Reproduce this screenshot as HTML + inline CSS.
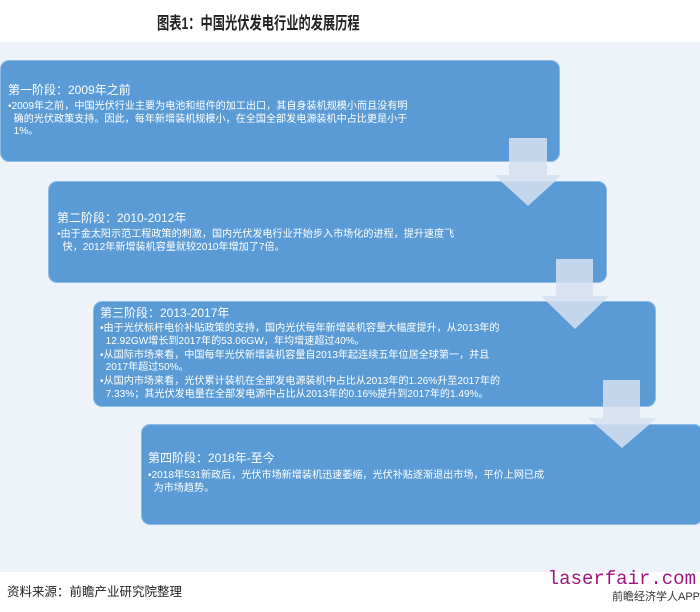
<!DOCTYPE html>
<html><head><meta charset="utf-8"><style>
*{margin:0;padding:0;box-sizing:border-box}
body{width:700px;height:612px;background:#fff;position:relative;overflow:hidden;font-family:"Liberation Sans","Noto Sans CJK SC",sans-serif}
.title{position:absolute;left:157px;top:9px;font-size:17px;font-weight:bold;color:#222;white-space:nowrap;transform:scaleX(0.72);transform-origin:0 0}
.panel{position:absolute;left:0;top:42px;width:700px;height:530px;background:#eef3fa}
.box{position:absolute;background:#5b9bd5;border-radius:9px;color:#fff;border:1px solid #8fbbe6}
.h{position:absolute;font-size:12px;white-space:nowrap}
.t{position:absolute;font-size:10.1px;line-height:12.5px;white-space:nowrap}
.t p{margin-bottom:1.5px}
.arr{position:absolute;opacity:0.85}
.src{position:absolute;left:7px;top:581px;font-size:12.5px;color:#222}
.wm{position:absolute;right:4px;top:568px;font-family:"Liberation Mono",monospace;color:#a0157f;font-size:19px}
.app{position:absolute;right:0;top:588px;font-size:11px;color:#333}
</style></head><body>
<div class="title">图表1：中国光伏发电行业的发展历程</div>
<div class="panel"></div>

<div class="box" style="left:0;top:60px;width:560px;height:102px">
<div class="h" style="left:7px;top:20px">第一阶段：2009年之前</div>
<div class="t" style="left:7px;top:40px">•2009年之前，中国光伏行业主要为电池和组件的加工出口，其自身装机规模小而且没有明<br>&nbsp;&nbsp;确的光伏政策支持。因此，每年新增装机规模小，在全国全部发电源装机中占比更是小于<br>&nbsp;&nbsp;1%。</div>
</div>

<div class="box" style="left:48px;top:181px;width:559px;height:102px">
<div class="h" style="left:8px;top:27px">第二阶段：2010-2012年</div>
<div class="t" style="left:8px;top:47px">•由于金太阳示范工程政策的刺激，国内光伏发电行业开始步入市场化的进程，提升速度飞<br>&nbsp;&nbsp;快，2012年新增装机容量就较2010年增加了7倍。</div>
</div>

<div class="box" style="left:93px;top:301px;width:563px;height:106px">
<div class="h" style="left:6px;top:2px">第三阶段：2013-2017年</div>
<div class="t" style="left:6px;top:21px"><p>•由于光伏标杆电价补贴政策的支持，国内光伏每年新增装机容量大幅度提升，从2013年的<br>&nbsp;&nbsp;12.92GW增长到2017年的53.06GW，年均增速超过40%。</p><p>•从国际市场来看，中国每年光伏新增装机容量自2013年起连续五年位居全球第一，并且<br>&nbsp;&nbsp;2017年超过50%。</p><p>•从国内市场来看，光伏累计装机在全部发电源装机中占比从2013年的1.26%升至2017年的<br>&nbsp;&nbsp;7.33%；其光伏发电量在全部发电源中占比从2013年的0.16%提升到2017年的1.49%。</p></div>
</div>

<div class="box" style="left:141px;top:424px;width:562px;height:101px">
<div class="h" style="left:6px;top:24px">第四阶段：2018年-至今</div>
<div class="t" style="left:6px;top:45px">•2018年531新政后，光伏市场新增装机迅速萎缩，光伏补贴逐渐退出市场，平价上网已成<br>&nbsp;&nbsp;为市场趋势。</div>
</div>

<svg class="arr" style="left:0;top:0" width="700" height="612">
<g fill="#d6e1f1">
<polygon points="509,138 547,138 547,175 562,175 528,206 494,175 509,175"/>
<polygon points="556,259 593,259 593,296 609,296 575,329 541,296 556,296"/>
<polygon points="603,380 640,380 640,418 657,418 622,448 588,418 603,418"/>
</g>
</svg>

<div class="src">资料来源：前瞻产业研究院整理</div>
<div class="wm">laserfair.com</div>
<div class="app">前瞻经济学人APP</div>
</body></html>
